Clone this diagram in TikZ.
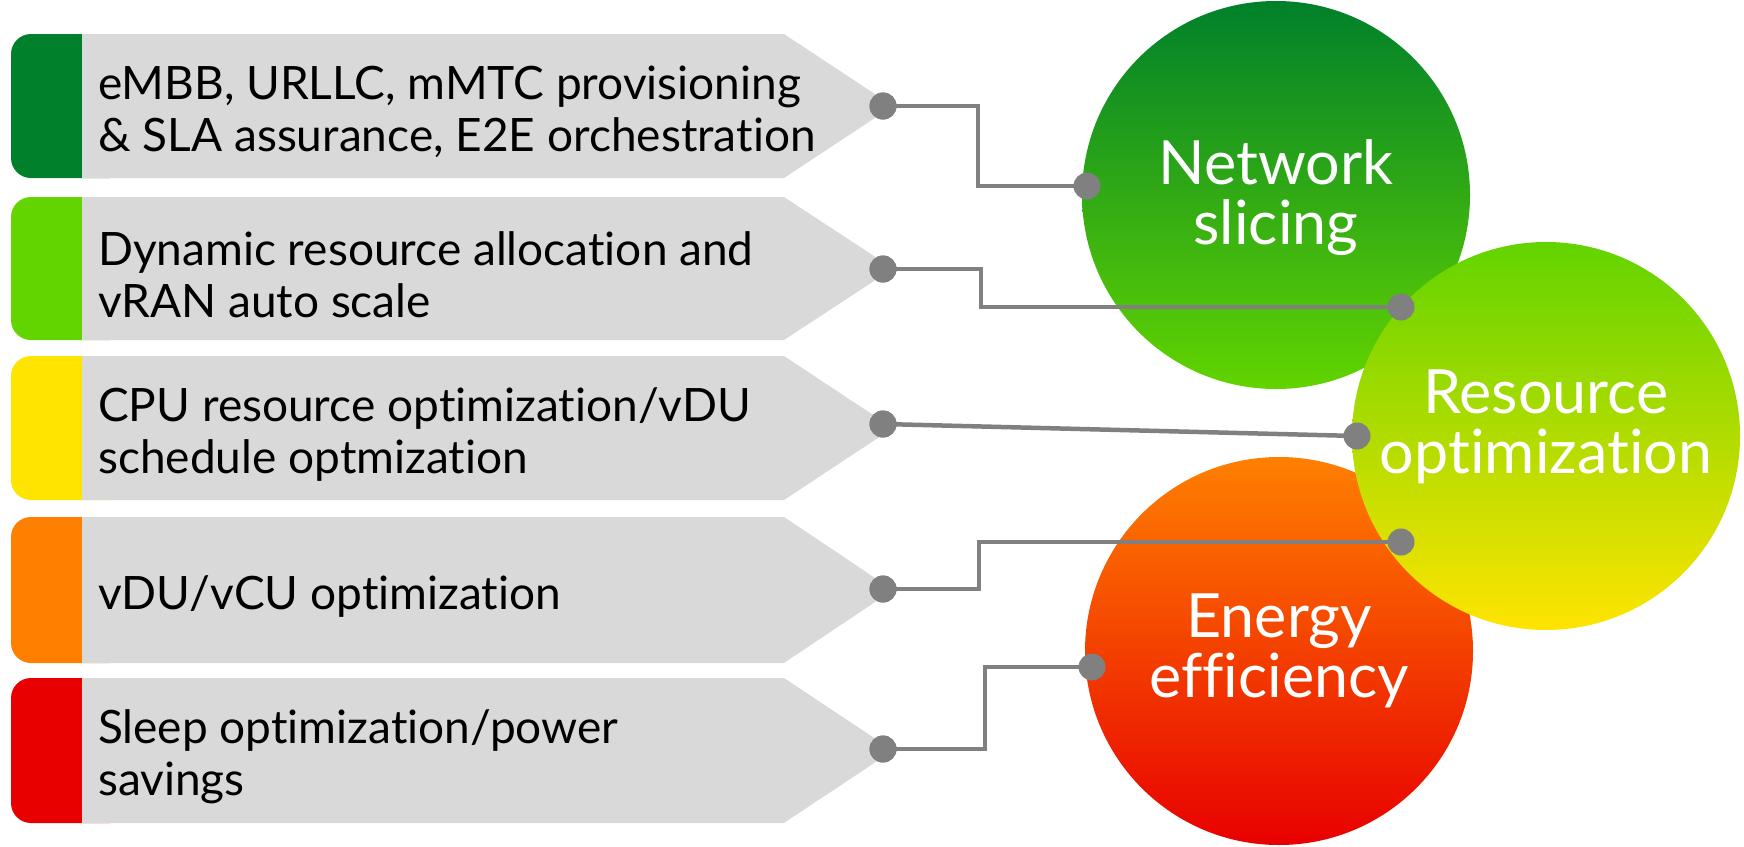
\documentclass[tikz,border=0pt]{standalone}
\usepackage{fontspec}
\setmainfont{Lato}[Ligatures=NoCommon]
\usetikzlibrary{calc}
\definecolor{dkgreen}{HTML}{00802A}
\definecolor{ltgreen}{HTML}{62D400}
\definecolor{midgreen}{HTML}{A2DC00}
\definecolor{yel}{HTML}{FFE400}
\definecolor{org}{HTML}{FF8000}
\definecolor{rd}{HTML}{E80000}
\definecolor{boxgray}{HTML}{D9D9D9}
\definecolor{conngray}{HTML}{808080}
\tikzset{
  boxtext/.style={anchor=west, align=left, font=\fontsize{46}{52}\selectfont, text=black, inner sep=0pt},
  circshape/.style={circle, minimum size=388pt, inner sep=0pt},
  circlabel/.style={align=center, text=white, inner sep=0pt, font=\fontsize{61}{60}\selectfont},
  dotnode/.style={circle, fill=conngray, minimum size=27pt, inner sep=0pt},
  conn/.style={draw=conngray, line width=4.5pt},
}
\newcommand{\tagbox}[5]{%
  \fill[#4, rounded corners=20pt] (11,#2) rectangle (130,#3);
  \fill[boxgray] (82,#2) -- (784,#2) -- (893,{(#2+#3)/2}) -- (784,#3) -- (82,#3) -- cycle;
  \node[boxtext] (#1) at (98,{(#2+#3)/2+6}) {#5};
}
\begin{document}
\begin{tikzpicture}[x=1pt,y=-1pt]
\useasboundingbox (0,0) rectangle (1744,846);
% circles
\node[circshape, top color=dkgreen, bottom color=ltgreen] (ns) at (1276,195) {};
\node[circshape, top color=org, bottom color=rd] (ee) at (1279,651) {};
\node[circshape, top color=ltgreen, middle color=midgreen, bottom color=yel] (ro) at (1546,436) {};
\node[circlabel] (nsl) at ($(ns.center)+(0,3)$) {Network\\slicing};
\node[circlabel] (eel) at (ee.center) {Energy\\efficiency};
\node[circlabel] (rol) at ($(ro.center)+(0,-9)$) {Resource\\optimization};
% boxes
\tagbox{t1}{34}{178}{dkgreen}{eMBB, URLLC, mMTC provisioning\\\& SLA assurance, E2E orchestration}
\tagbox{t2}{197}{340}{ltgreen}{Dynamic resource allocation and\\vRAN auto scale}
\tagbox{t3}{356}{500}{yel}{CPU resource optimization/vDU\\schedule optmization}
\tagbox{t4}{517}{663}{org}{vDU/vCU optimization}
\tagbox{t5}{678}{823}{rd}{Sleep optimization/power\\savings}
% dots
\node[dotnode] (d1) at (883,106) {};
\node[dotnode] (d2) at (883,269) {};
\node[dotnode] (d3) at (883,424) {};
\node[dotnode] (d4) at (883,589) {};
\node[dotnode] (d5) at (883,749) {};
\coordinate (c1) at (1087,186);
\coordinate (c2) at (1401,307);
\coordinate (c3) at (1357,436);
\coordinate (c4) at (1401,542);
\coordinate (c5) at (1092,667);
% connectors
\draw[conn] (d1.center) -- ++(95,0) |- (c1);
\draw[conn] (d2.center) -- ++(98,0) |- (c2);
\draw[conn] (d3.center) -- (c3);
\draw[conn] (d4.center) -- ++(96,0) |- (c4);
\draw[conn] (d5.center) -- ++(102,0) |- (c5);
\node[dotnode] (e1) at (c1) {};
\node[dotnode] (e2) at (c2) {};
\node[dotnode] (e3) at (c3) {};
\node[dotnode] (e4) at (c4) {};
\node[dotnode] (e5) at (c5) {};
\node[dotnode] at (d1) {};
\node[dotnode] at (d2) {};
\node[dotnode] at (d3) {};
\node[dotnode] at (d4) {};
\node[dotnode] at (d5) {};
\end{tikzpicture}
\end{document}
